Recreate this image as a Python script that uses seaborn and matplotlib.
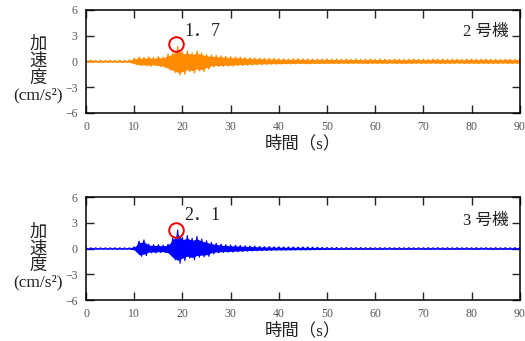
import numpy as np
import pandas as pd
import matplotlib
matplotlib.use('Agg')
import matplotlib.pyplot as plt
import seaborn as sns

# peak envelope read per second (t = 0..90 s), acceleration in cm/s2
times = list(range(0, 91))

unit2_upper = [
    .10, .12, .10, .12, .10, .12, .10, .12, .11, .15,
    .35, .50, .45, .52, .45, .55, .50, .85, 1.0, 1.75,
    1.1, 1.2, 1.0, 1.2, 1.0, .80, .75, .70, .65, .60,
    .55, .52, .50, .45, .42, .40, .38, .36, .35, .34,
    .32, .30, .28, .30, .30, .28, .30, .27, .28, .26,
    .28, .25, .27, .24, .26, .25, .28, .24, .25, .27,
    .24, .26, .25, .23, .27, .25, .24, .26, .28, .24,
    .25, .23, .26, .25, .27, .24, .25, .26, .23, .25,
    .27, .24, .25, .26, .24, .25, .23, .26, .25, .24,
    .25]
unit2_lower = [
    -.10, -.11, -.10, -.12, -.10, -.11, -.10, -.12, -.10, -.14,
    -.35, -.50, -.50, -.55, -.50, -.60, -.70, -1.0, -1.3, -1.6,
    -1.5, -1.2, -1.35, -1.1, -1.2, -.90, -.65, -.60, -.60, -.55,
    -.55, -.50, -.48, -.45, -.42, -.40, -.37, -.36, -.34, -.33,
    -.32, -.30, -.29, -.30, -.28, -.28, -.29, -.27, -.27, -.26,
    -.27, -.25, -.26, -.24, -.25, -.26, -.24, -.25, -.26, -.24,
    -.25, -.24, -.26, -.23, -.25, -.24, -.26, -.25, -.24, -.23,
    -.25, -.24, -.23, -.25, -.26, -.24, -.25, -.23, -.24, -.25,
    -.24, -.26, -.23, -.25, -.24, -.25, -.23, -.24, -.25, -.24,
    -.24]

unit3_upper = [
    .08, .08, .08, .08, .08, .08, .08, .08, .08, .08,
    .20, .85, 1.0, .50, .45, .45, .40, .50, 1.25, 2.15,
    1.3, 1.5, 1.2, 1.4, 1.1, .90, .70, .60, .50, .45,
    .40, .38, .35, .32, .30, .28, .25, .23, .22, .20,
    .20, .18, .18, .18, .17, .18, .17, .16, .15, .13,
    .12, .11, .12, .10, .11, .10, .10, .11, .10, .10,
    .09, .10, .09, .10, .09, .10, .09, .10, .09, .10,
    .09, .10, .09, .10, .09, .10, .09, .10, .09, .10,
    .09, .10, .09, .10, .09, .10, .09, .10, .09, .10,
    .09]
unit3_lower = [
    -.08, -.08, -.08, -.08, -.08, -.08, -.08, -.08, -.08, -.08,
    -.20, -.90, -.80, -.50, -.50, -.45, -.45, -.60, -1.3, -1.7,
    -1.4, -1.1, -1.3, -1.0, -.95, -.90, -.60, -.50, -.45, -.42,
    -.40, -.36, -.33, -.30, -.28, -.26, -.24, -.22, -.20, -.19,
    -.18, -.18, -.17, -.17, -.16, -.16, -.15, -.14, -.13, -.12,
    -.11, -.10, -.11, -.10, -.10, -.09, -.10, -.10, -.09, -.10,
    -.09, -.10, -.09, -.09, -.10, -.09, -.09, -.10, -.09, -.09,
    -.09, -.10, -.09, -.09, -.10, -.09, -.09, -.10, -.09, -.09,
    -.09, -.10, -.09, -.09, -.10, -.09, -.09, -.10, -.09, -.09,
    -.09]

units = ['2 号機', '3 号機']
peak_labels = ['1．7', '2．1']
peak_time = [18.7, 18.6]
peak_mark = [2.05, 2.2]
colors = ['#ff8c00', '#0000ff']
yticks = [-6, -3, 0, 3, 6]
xticks = list(range(0, 91, 10))

sns.set_style('ticks')
plt.rcParams['font.family'] = ['Liberation Serif', 'Noto Sans CJK JP']
plt.rcParams['axes.unicode_minus'] = True


def zigzag(upper, lower):
    # alternate read peaks: upper at t, lower half a second later
    xs, ys = [], []
    for t, u, l in zip(times, upper, lower):
        xs += [t, t + 0.5]
        ys += [u, l]
    return pd.DataFrame({'time': xs, 'acc': ys})


fig = plt.figure(figsize=(5.25, 3.41), dpi=100)
boxes = [[0.164, 0.669, 0.826, 0.302], [0.164, 0.120, 0.826, 0.302]]
series = [(unit2_upper, unit2_lower), (unit3_upper, unit3_lower)]
ylab_y = [0.795, 0.245]

for i in range(2):
    ax = fig.add_axes(boxes[i])
    up, lo = series[i]
    # envelope band, then the peaks on top
    ax.fill_between(times, [0.8 * v for v in lo], [0.8 * v for v in up],
                    color=colors[i], linewidth=0)
    df = zigzag(up, lo)
    sns.lineplot(data=df, x='time', y='acc', sort=False, estimator=None,
                 color=colors[i], linewidth=0.9, ax=ax)
    ax.plot([peak_time[i]], [peak_mark[i]], marker='o', markersize=10.5,
            mfc='none', mec='#ee0000', mew=1.4)
    ax.text(20.4, 3.5 if i == 0 else 3.8, peak_labels[i], fontsize=13,
            ha='left', va='center', color='#222222')
    ax.text(87.6, 3.4 if i == 0 else 3.2, units[i], fontsize=12,
            ha='right', va='center', color='#222222')
    ax.set_xlim(0, 90)
    ax.set_ylim(-6, 6)
    ax.set_xticks(xticks)
    ax.set_yticks(yticks)
    ax.tick_params(direction='in', top=True, right=True, length=6, width=1,
                   labelsize=8.5, labelcolor='#555555', pad=6)
    for s in ax.spines.values():
        s.set_linewidth(1.1)
        s.set_color('black')
    ax.set_ylabel('')
    ax.set_xlabel('時間（s）', fontsize=12.5, labelpad=1.5, color='#222222')
    fig.text(0.072, ylab_y[i], '加\n速\n度\n(cm/s²)', fontsize=12.5,
             ha='center', va='center', linespacing=1.05, color='#222222')

fig.savefig('out.png', dpi=100)
